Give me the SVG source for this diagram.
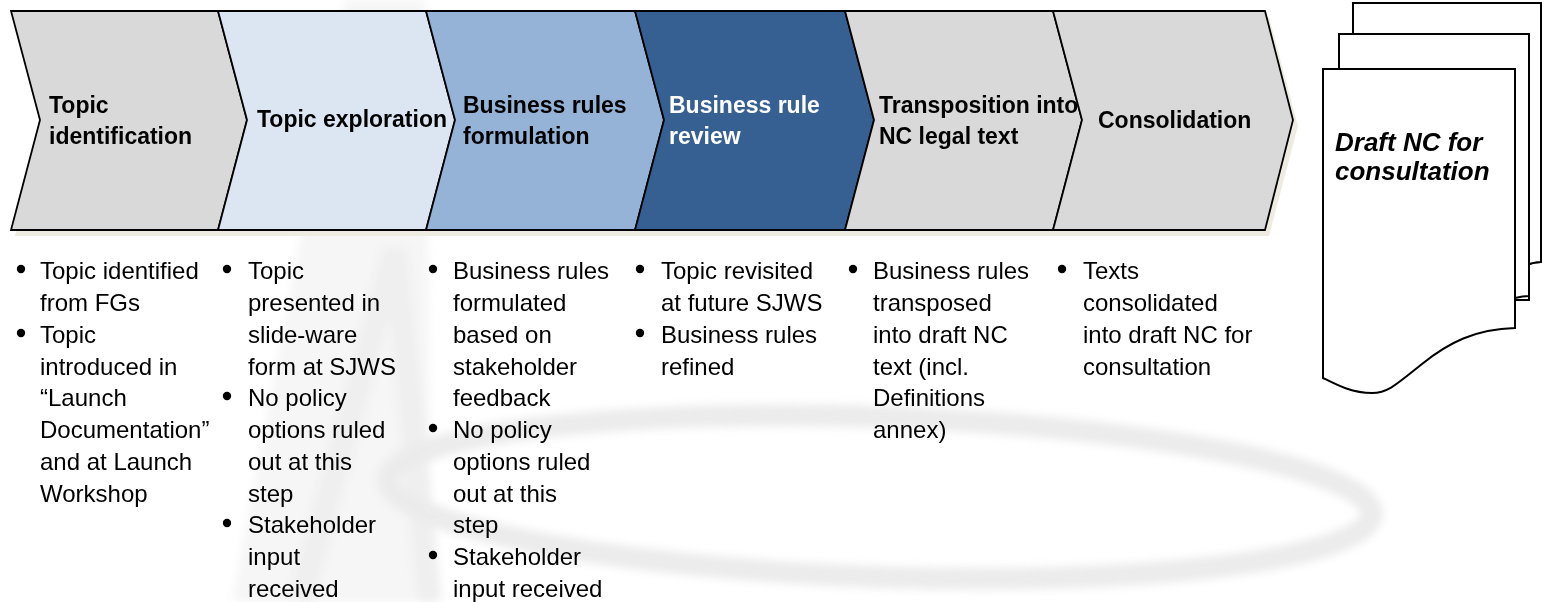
<svg xmlns="http://www.w3.org/2000/svg" width="1542" height="602" viewBox="0 0 1542 602">
<style>
.chev{stroke:#000;stroke-width:1.8;stroke-linejoin:miter}
.hd{font-family:"Liberation Sans",Arial,sans-serif;font-weight:bold;font-size:23px;fill:#000}
.hdw{fill:#fff}
.bt{font-family:"Liberation Sans",Arial,sans-serif;font-size:24px;fill:#000}
.doc{fill:#fff;stroke:#000;stroke-width:2}
.dt{font-family:"Liberation Sans",Arial,sans-serif;font-weight:bold;font-style:italic;font-size:26px;fill:#000}
.wm{fill:none;stroke:#e3e3e3}
</style>
<defs>
<filter id="soft" x="-10%" y="-10%" width="120%" height="120%"><feGaussianBlur stdDeviation="4"/></filter>
</defs>
<rect width="1542" height="602" fill="#fff"/>
<g id="watermark" opacity="0.7" filter="url(#soft)">
<polygon points="345,0 425,0 432,602 232,602" fill="#f2f2f2"/>
<path d="M300,602 L395,250 L430,602" fill="none" stroke="#e8e8e8" stroke-width="24"/>
<ellipse cx="880" cy="497" rx="492" ry="80" transform="rotate(2 880 497)" class="wm" stroke-width="22"/>
</g>
<polygon id="shadow" points="15,17 1269,17 1298,126 1269,236 15,236 44,126" fill="#eeece1"/>
<g id="chevron-1"><polygon class="chev" points="11,11 218,11 247,120 218,230 11,230 40,120" fill="#d9d9d9"/>
<text class="hd" x="49" y="113">Topic</text><text class="hd" x="49" y="144">identification</text></g>
<g id="chevron-2"><polygon class="chev" points="218,11 426,11 455,120 426,230 218,230 247,120" fill="#dce6f2"/>
<text class="hd" x="257" y="127">Topic exploration</text></g>
<g id="chevron-3"><polygon class="chev" points="426,11 635,11 664,120 635,230 426,230 455,120" fill="#95b3d7"/>
<text class="hd" x="463" y="113">Business rules</text><text class="hd" x="463" y="144">formulation</text></g>
<g id="chevron-4"><polygon class="chev" points="635,11 845,11 874,120 845,230 635,230 664,120" fill="#376092"/>
<text class="hd hdw" x="669" y="113">Business rule</text><text class="hd hdw" x="669" y="144">review</text></g>
<g id="chevron-5"><polygon class="chev" points="845,11 1053,11 1082,120 1053,230 845,230 874,120" fill="#d9d9d9"/>
<text class="hd" x="879" y="113">Transposition into</text><text class="hd" x="879" y="144">NC legal text</text></g>
<g id="chevron-6"><polygon class="chev" points="1053,11 1265,11 1293,120 1265,230 1053,230 1082,120" fill="#d9d9d9"/>
<text class="hd" x="1098" y="128">Consolidation</text></g>
<g id="bullets-1">
<circle cx="21" cy="269" r="4.2"/><circle cx="21" cy="333" r="4.2"/>
<text class="bt" x="40" y="279">Topic identified</text>
<text class="bt" x="40" y="311">from FGs</text>
<text class="bt" x="40" y="343">Topic</text>
<text class="bt" x="40" y="375">introduced in</text>
<text class="bt" x="40" y="406">“Launch</text>
<text class="bt" x="40" y="438">Documentation”</text>
<text class="bt" x="40" y="470">and at Launch</text>
<text class="bt" x="40" y="502">Workshop</text>
</g>
<g id="bullets-2">
<circle cx="227" cy="269" r="4.2"/><circle cx="227" cy="396" r="4.2"/><circle cx="227" cy="523" r="4.2"/>
<text class="bt" x="248" y="279">Topic</text>
<text class="bt" x="248" y="311">presented in</text>
<text class="bt" x="248" y="343">slide-ware</text>
<text class="bt" x="248" y="375">form at SJWS</text>
<text class="bt" x="248" y="406">No policy</text>
<text class="bt" x="248" y="438">options ruled</text>
<text class="bt" x="248" y="470">out at this</text>
<text class="bt" x="248" y="502">step</text>
<text class="bt" x="248" y="533">Stakeholder</text>
<text class="bt" x="248" y="565">input</text>
<text class="bt" x="248" y="597">received</text>
</g>
<g id="bullets-3">
<circle cx="433" cy="269" r="4.2"/><circle cx="433" cy="428" r="4.2"/><circle cx="433" cy="555" r="4.2"/>
<text class="bt" x="453" y="279">Business rules</text>
<text class="bt" x="453" y="311">formulated</text>
<text class="bt" x="453" y="343">based on</text>
<text class="bt" x="453" y="375">stakeholder</text>
<text class="bt" x="453" y="406">feedback</text>
<text class="bt" x="453" y="438">No policy</text>
<text class="bt" x="453" y="470">options ruled</text>
<text class="bt" x="453" y="502">out at this</text>
<text class="bt" x="453" y="533">step</text>
<text class="bt" x="453" y="565">Stakeholder</text>
<text class="bt" x="453" y="597">input received</text>
</g>
<g id="bullets-4">
<circle cx="640" cy="269" r="4.2"/><circle cx="640" cy="333" r="4.2"/>
<text class="bt" x="661" y="279">Topic revisited</text>
<text class="bt" x="661" y="311">at future SJWS</text>
<text class="bt" x="661" y="343">Business rules</text>
<text class="bt" x="661" y="375">refined</text>
</g>
<g id="bullets-5">
<circle cx="853" cy="269" r="4.2"/>
<text class="bt" x="873" y="279">Business rules</text>
<text class="bt" x="873" y="311">transposed</text>
<text class="bt" x="873" y="343">into draft NC</text>
<text class="bt" x="873" y="375">text (incl.</text>
<text class="bt" x="873" y="406">Definitions</text>
<text class="bt" x="873" y="438">annex)</text>
</g>
<g id="bullets-6">
<circle cx="1062" cy="269" r="4.2"/>
<text class="bt" x="1083" y="279">Texts</text>
<text class="bt" x="1083" y="311">consolidated</text>
<text class="bt" x="1083" y="343">into draft NC for</text>
<text class="bt" x="1083" y="375">consultation</text>
</g>
<g id="document-stack">
<path class="doc" d="M1353,3 H1541 V262 C1536,262 1532,263 1529,264 L1529,300 H1400 Z" stroke="none"/>
<path class="doc" d="M1353,69 V3 H1541 V262 C1537,262 1533,263 1529,264"/>
<path class="doc" d="M1339,69 V34 H1529 V296 C1524,296 1519,297 1515,298"/>
<path class="doc" d="M1323,69 H1515 V328 C1475,329 1448,343 1422,364 C1397,384 1388,393 1372,393 C1352,393 1337,385 1323,378 Z"/>
<text class="dt" x="1335" y="151">Draft NC for</text>
<text class="dt" x="1335" y="180">consultation</text>
</g>
</svg>
